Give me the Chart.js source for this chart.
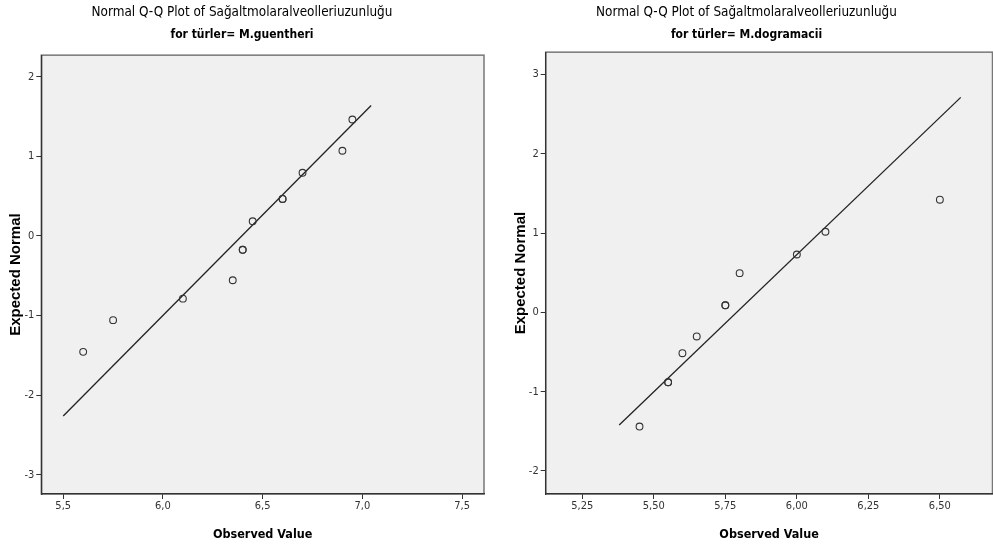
<!DOCTYPE html>
<html>
<head>
<meta charset="utf-8">
<script src="https://cdn.jsdelivr.net/npm/chart.js@4.4.1/dist/chart.umd.min.js"></script>
<style>
    html, body { margin: 0; padding: 0; background: #fff; overflow: hidden; }
    #wrap { position: relative; width: 993px; height: 556px; overflow: hidden; }
    .box { position: absolute; top: 0; height: 556px; }
    #left { left: 0; width: 496px; }
    #right { left: 496px; width: 501px; }
</style>
</head>
<body>
<div id="wrap">
    <div class="box" id="left"><canvas id="qq-guentheri"></canvas></div>
    <div class="box" id="right"><canvas id="qq-dogramacii"></canvas></div>
</div>
<script>
const mainTitle = "Normal Q-Q Plot of Sağaltmolaralveolleriuzunluğu";

// M.guentheri
const guentheriObserved = [5.60, 5.75, 6.10, 6.35, 6.40, 6.40, 6.45, 6.60, 6.60, 6.70, 6.90, 6.95];
const guentheriExpected = [-1.455, -1.057, -0.787, -0.556, -0.174, -0.174, 0.184, 0.465, 0.465, 0.793, 1.070, 1.462];
const guentheriLineX = [5.50, 7.044];
const guentheriLineY = [-2.26, 1.638];
const guentheriXTicks = [5.5, 6.0, 6.5, 7.0, 7.5];
const guentheriYTicks = [-3, -2, -1, 0, 1, 2];

// M.dogramacii
const dogramaciiObserved = [5.45, 5.55, 5.55, 5.60, 5.65, 5.75, 5.75, 5.80, 6.00, 6.10, 6.50];
const dogramaciiExpected = [-1.44, -0.882, -0.882, -0.515, -0.304, 0.089, 0.089, 0.494, 0.729, 1.016, 1.42];
const dogramaciiLineX = [5.379, 6.573];
const dogramaciiLineY = [-1.42, 2.71];
const dogramaciiXTicks = [5.25, 5.50, 5.75, 6.00, 6.25, 6.50];
const dogramaciiYTicks = [-2, -1, 0, 1, 2, 3];

const narrow = "'Liberation Sans Narrow', 'Arial Narrow', 'DejaVu Sans Condensed', sans-serif";
const wide = "'Liberation Sans', Arial, sans-serif";

const plotFrame = {
    id: 'plotFrame',
    beforeDraw(chart) {
        const {ctx, chartArea: a} = chart;
        ctx.save();
        ctx.fillStyle = '#f0f0f0';
        ctx.fillRect(a.left, a.top, a.width, a.height);
        ctx.strokeStyle = '#777';
        ctx.lineWidth = 1.5;
        ctx.strokeRect(a.left, a.top, a.width, a.height);
        ctx.restore();
    }
};

function toPoints(xs, ys) {
    return xs.map((x, i) => ({x: x, y: ys[i]}));
}

function fixedTicks(values) {
    return (scale) => {
        scale.ticks = values.map(v => ({value: v}));
    };
}

function newQQChart(id, cfg) {
    return new Chart(document.getElementById(id), {
        type: 'scatter',
        data: {
            datasets: [
                {
                    data: toPoints(cfg.observed, cfg.expected),
                    pointStyle: 'circle',
                    pointRadius: 3.4,
                    pointHoverRadius: 3.4,
                    backgroundColor: 'rgba(0,0,0,0)',
                    borderColor: '#333',
                    borderWidth: 1.1,
                },
                {
                    type: 'line',
                    data: toPoints(cfg.lineX, cfg.lineY),
                    borderColor: '#222',
                    borderWidth: 1.3,
                    pointRadius: 0,
                    fill: false,
                },
            ],
        },
        options: {
            responsive: true,
            maintainAspectRatio: false,
            animation: false,
            events: [],
            layout: {padding: {left: 0, right: cfg.padRight, top: 0, bottom: 0}},
            plugins: {
                legend: {display: false},
                tooltip: {enabled: false},
                title: {
                    display: true,
                    text: mainTitle,
                    color: '#000',
                    font: {family: narrow, size: 13.4, weight: 'normal', lineHeight: 1.25},
                    padding: {top: 4, bottom: 0},
                },
                subtitle: {
                    display: true,
                    text: cfg.subtitle,
                    color: '#000',
                    font: {family: narrow, size: 12, weight: 'bold', lineHeight: 1.2},
                    padding: {top: 7, bottom: cfg.subPad},
                },
            },
            scales: {
                x: {
                    type: 'linear',
                    min: cfg.xMin,
                    max: cfg.xMax,
                    afterBuildTicks: fixedTicks(cfg.xTicks),
                    afterFit: (scale) => { scale.height = 62; },
                    grid: {drawOnChartArea: false, drawTicks: true, tickLength: 5, color: '#333'},
                    border: {color: '#333', width: 1.3},
                    ticks: {
                        color: '#333',
                        padding: 1,
                        font: {family: narrow, size: 11},
                        callback: (v) => v.toFixed(cfg.xDigits).replace('.', ','),
                    },
                    title: {
                        display: true,
                        text: 'Observed Value',
                        color: '#000',
                        font: {family: narrow, size: 12.5, weight: 'bold', lineHeight: 1.2},
                        padding: {top: 0, bottom: 13.5},
                    },
                },
                y: {
                    type: 'linear',
                    min: cfg.yMin,
                    max: cfg.yMax,
                    afterBuildTicks: fixedTicks(cfg.yTicks),
                    afterFit: (scale) => { scale.width = cfg.yWidth; },
                    grid: {drawOnChartArea: false, drawTicks: true, tickLength: 5, color: '#333'},
                    border: {color: '#333', width: 1.3},
                    ticks: {
                        color: '#333',
                        padding: 2,
                        font: {family: narrow, size: 11},
                        callback: (v) => String(v),
                    },
                    title: {
                        display: true,
                        text: 'Expected Normal',
                        color: '#000',
                        font: {family: wide, size: 15, weight: 'bold', lineHeight: 1.2},
                        padding: {top: cfg.yTitlePad, bottom: 0},
                    },
                },
            },
        },
        plugins: [plotFrame],
    });
}

newQQChart('qq-guentheri', {
    subtitle: 'for türler= M.guentheri',
    observed: guentheriObserved,
    expected: guentheriExpected,
    lineX: guentheriLineX,
    lineY: guentheriLineY,
    xTicks: guentheriXTicks,
    yTicks: guentheriYTicks,
    xMin: 5.39, xMax: 7.61, xDigits: 1,
    yMin: -3.24, yMax: 2.27,
    yWidth: 41.3, yTitlePad: 6.5,
    padRight: 12, subPad: 13,
});

newQQChart('qq-dogramacii', {
    subtitle: 'for türler= M.dogramacii',
    observed: dogramaciiObserved,
    expected: dogramaciiExpected,
    lineX: dogramaciiLineX,
    lineY: dogramaciiLineY,
    xTicks: dogramaciiXTicks,
    yTicks: dogramaciiYTicks,
    xMin: 5.122, xMax: 6.684, xDigits: 2,
    yMin: -2.29, yMax: 3.28,
    yWidth: 49.7, yTitlePad: 15.5,
    padRight: 0, subPad: 10,
});
</script>
</body>
</html>
